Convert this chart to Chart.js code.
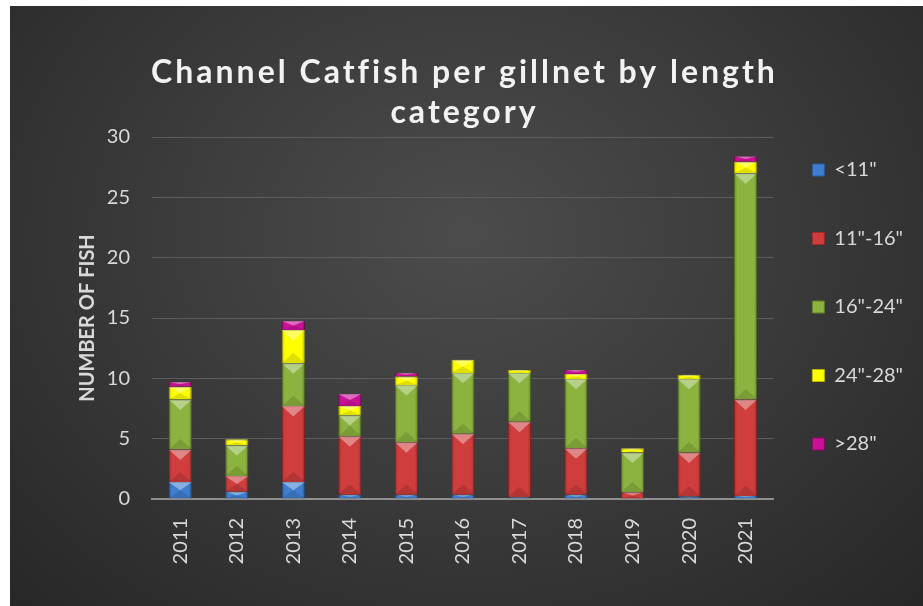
<!DOCTYPE html>
<html>
<head>
<meta charset="utf-8">
<script src="https://cdn.jsdelivr.net/npm/chart.js@4.4.1/dist/chart.umd.min.js"></script>
<style>
  html, body { margin: 0; padding: 0; background: #fff; }
  #wrap {
    position: absolute; left: 10px; top: 6px; width: 913px; height: 600px;
    background: radial-gradient(ellipse farthest-corner at 50% 38%, #4c4c4c 0%, #3c3c3c 45%, #272727 100%);
  }
</style>
</head>
<body>
<div id="wrap"><canvas id="catfish"></canvas></div>
<script>
// catfish per gillnet
var years = ['2011','2012','2013','2014','2015','2016','2017','2018','2019','2020','2021'];
var under11   = [1.4, 0.6, 1.4, 0.35, 0.35, 0.35, 0.15, 0.35, 0, 0.2, 0.25];
var len11to16 = [2.7, 1.3, 6.3, 4.85, 4.35, 5.05, 6.25, 3.85, 0.55, 3.65, 8.0];
var len16to24 = [4.15, 2.55, 3.55, 1.75, 4.75, 5.05, 4.05, 5.75, 3.3, 6.1, 18.75];
var len24to28 = [1.05, 0.5, 2.75, 0.75, 0.7, 1.1, 0.25, 0.4, 0.35, 0.35, 0.95];
var over28    = [0.4, 0, 0.75, 1.0, 0.3, 0, 0, 0.35, 0, 0, 0.45];

var seriesNames = ['<11"', '11"-16"', '16"-24"', '24"-28"', '>28"'];
var fills   = ['#3f7ecf', '#cf3d3d', '#8cb340', '#ffff00', '#cc1199'];
var borders = ['#2b5c9c', '#9e2a2a', '#5f8024', '#b8b800', '#8a0868'];

Chart.defaults.font.family = 'Lato';
Chart.defaults.color = '#d9d9d9';

// excel-ish bevel on each bar segment
var bevel = {
  id: 'bevel',
  afterDatasetsDraw: function(chart) {
    var ctx = chart.ctx;
    chart.data.datasets.forEach(function(ds, i) {
      var meta = chart.getDatasetMeta(i);
      if (meta.hidden) return;
      meta.data.forEach(function(bar) {
        var p = bar.getProps(['x', 'y', 'base', 'width'], true);
        var top = Math.min(p.y, p.base), bot = Math.max(p.y, p.base);
        var h = bot - top;
        if (h < 0.5) return;
        var l = p.x - p.width / 2, r = p.x + p.width / 2;
        var t = Math.min(h / 2, p.width * 0.45);
        ctx.save();
        ctx.beginPath(); ctx.rect(l, top, p.width, h); ctx.clip();
        var g = ctx.createLinearGradient(l, 0, r, 0);
        g.addColorStop(0, 'rgba(0,0,0,0.18)');
        g.addColorStop(0.15, 'rgba(0,0,0,0)');
        g.addColorStop(0.85, 'rgba(0,0,0,0)');
        g.addColorStop(1, 'rgba(0,0,0,0.22)');
        ctx.fillStyle = g;
        ctx.fillRect(l, top, p.width, h);
        ctx.beginPath(); ctx.moveTo(l, top); ctx.lineTo(r, top); ctx.lineTo(p.x, top + t); ctx.closePath();
        ctx.fillStyle = 'rgba(255,255,255,0.38)'; ctx.fill();
        ctx.beginPath(); ctx.moveTo(l, bot); ctx.lineTo(r, bot); ctx.lineTo(p.x, bot - t); ctx.closePath();
        ctx.fillStyle = 'rgba(0,0,0,0.12)'; ctx.fill();
        ctx.restore();
      });
    });
  }
};

// spaced-out title (shifted a bit left like the original) and legend nudge
var tweaks = {
  id: 'tweaks',
  afterLayout: function(chart) {
    if (chart.legend) { chart.legend.left -= 10; chart.legend.right -= 10; }
  },
  beforeDraw: function(chart) {
    var tb = chart.titleBlock;
    if (tb && !tb._spaced) {
      var orig = tb.draw.bind(tb);
      tb.draw = function() {
        chart.ctx.save();
        chart.ctx.translate(-33, 0);
        chart.ctx.letterSpacing = '3px';
        orig();
        chart.ctx.restore();
      };
      tb._spaced = true;
    }
  }
};

var datasets = [under11, len11to16, len16to24, len24to28, over28].map(function(vals, i) {
  return {
    label: seriesNames[i],
    data: vals,
    backgroundColor: fills[i],
    borderColor: borders[i],
    borderWidth: 1,
    barPercentage: 0.41,
    categoryPercentage: 1
  };
});

new Chart(document.getElementById('catfish'), {
  type: 'bar',
  data: { labels: years, datasets: datasets },
  plugins: [bevel, tweaks],
  options: {
    responsive: true,
    maintainAspectRatio: false,
    animation: false,
    layout: { padding: { top: 36, left: 62, right: 0, bottom: 34 } },
    plugins: {
      title: {
        display: true,
        text: ['Channel Catfish per gillnet by length', 'category'],
        color: '#f2f2f2',
        font: { size: 32, weight: 'bold', lineHeight: 1.25 },
        padding: { top: 11, bottom: 4 }
      },
      legend: {
        position: 'right',
        labels: {
          boxWidth: 12, boxHeight: 12,
          padding: 48.5,
          color: '#d9d9d9',
          font: { size: 20 }
        }
      },
      tooltip: { enabled: false }
    },
    scales: {
      x: {
        stacked: true,
        grid: { display: false },
        border: { color: '#8f8f8f', width: 2 },
        ticks: { minRotation: 90, maxRotation: 90, padding: 11, color: '#d9d9d9', font: { size: 20 } },
        afterFit: function(s) { s.height = 73; }
      },
      y: {
        stacked: true,
        min: 0, max: 30,
        grid: { color: '#5c5c5c', lineWidth: 1, drawTicks: false },
        border: { display: false },
        ticks: { stepSize: 5, padding: 22, color: '#d9d9d9', font: { size: 20 } },
        title: {
          display: true, text: 'NUMBER OF FISH', color: '#d9d9d9',
          font: { size: 20, weight: 'bold' }, padding: { top: 4, bottom: 4 }
        },
        afterFit: function(s) { s.width = 80; }
      }
    }
  }
});
</script>
</body>
</html>
